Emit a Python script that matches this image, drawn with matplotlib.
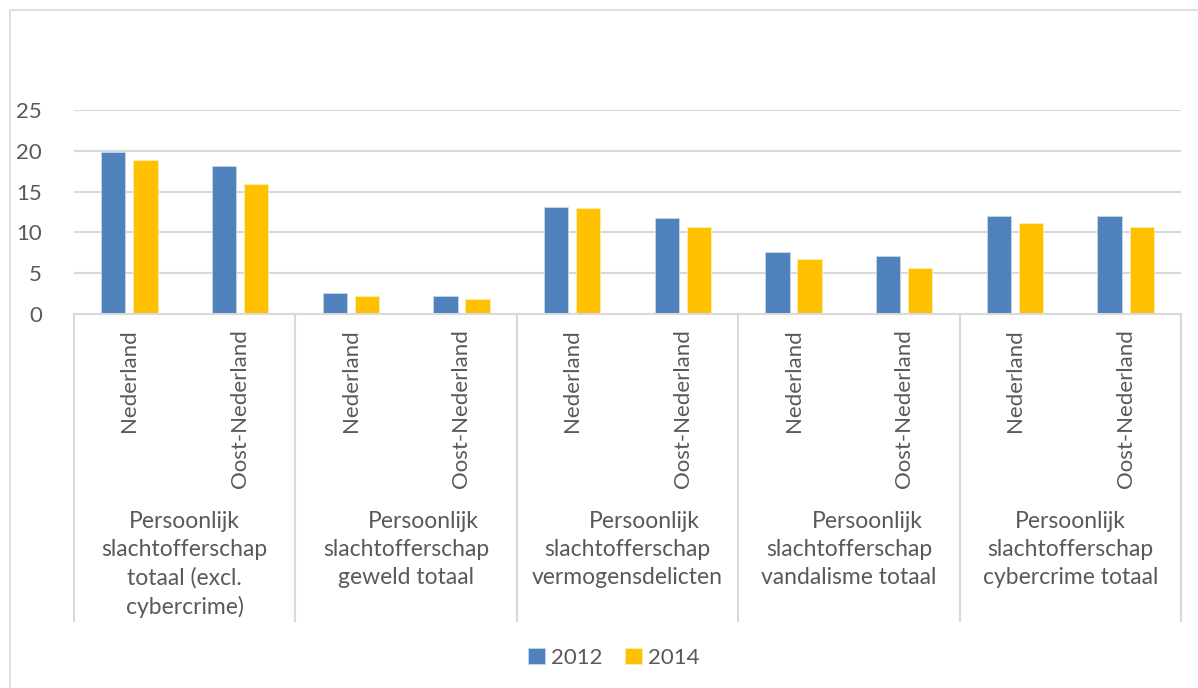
import matplotlib
matplotlib.use("Agg")
import matplotlib.pyplot as plt
import matplotlib.transforms as mtransforms
from matplotlib.patches import Rectangle
import numpy as np

plt.rcParams['font.family'] = ['Lato', 'DejaVu Sans']

regions = ["Nederland", "Oost-Nederland"] * 5
groups = [
    ["Persoonlijk", "slachtofferschap", "totaal (excl.", "cybercrime)"],
    ["Persoonlijk", "slachtofferschap", "geweld totaal"],
    ["Persoonlijk", "slachtofferschap", "vermogensdelicten"],
    ["Persoonlijk", "slachtofferschap", "vandalisme totaal"],
    ["Persoonlijk", "slachtofferschap", "cybercrime totaal"],
]
first_line_shift = [0, 17, 17, 18, 0]  # px shift of first line (Excel wrap quirk)
values_2012 = [19.8, 18.1, 2.6, 2.2, 13.1, 11.8, 7.6, 7.1, 12.0, 12.0]
values_2014 = [18.9, 15.9, 2.2, 1.8, 13.0, 10.7, 6.7, 5.6, 11.1, 10.7]
series_labels = ["2012", "2014"]
yticks = [0, 5, 10, 15, 20, 25]

W, H = 1198, 688
fig = plt.figure(figsize=(W / 100, H / 100), dpi=100)
fig.patch.set_facecolor("white")

# outer chart border
fig.patches.append(Rectangle((10 / W, -0.1), 1.2, 1 - 10 / H + 0.1, transform=fig.transFigure,
                             fill=False, edgecolor="#d9d9d9", linewidth=1.2))

left, right, top, bottom = 74, 1181, 110, 314
ax = fig.add_axes([left / W, 1 - bottom / H, (right - left) / W, (bottom - top) / H])

blue = "#4F81BD"
yellow = "#FFC000"
txt = "#595959"
x = np.arange(len(regions))
bw = 0.22
off = 0.145
ax.bar(x - off, values_2012, bw, color=blue, edgecolor="#c9d7ea", linewidth=0.6, label=series_labels[0], zorder=3)
ax.bar(x + off, values_2014, bw, color=yellow, edgecolor="#ffeab3", linewidth=0.6, label=series_labels[1], zorder=3)

ax.set_xlim(-0.5, len(regions) - 0.5)
ax.set_ylim(0, 25)
ax.set_yticks(yticks)
ax.set_yticklabels([str(t) for t in yticks], fontsize=16, color=txt)
ax.tick_params(axis="y", length=0, pad=23)
ax.set_xticks([])
ax.yaxis.grid(True, color="#d9d9d9", linewidth=1.5, zorder=0)
for s in ["top", "right", "left"]:
    ax.spines[s].set_visible(False)
ax.spines["bottom"].set_color("#d9d9d9")
ax.spines["bottom"].set_linewidth(1.5)
ax.spines["bottom"].set_zorder(4)

trans = mtransforms.blended_transform_factory(ax.transData, ax.transAxes)
ph = bottom - top  # axes height px

def ay(py):
    return (bottom - py) / ph

# separators
for b in np.arange(-0.5, len(regions) + 0.5, 2):
    ax.plot([b, b], [0, ay(621)], transform=trans, color="#d9d9d9", linewidth=1.5, clip_on=False, zorder=1)

# region labels
for i, r in enumerate(regions):
    ax.text(i, ay(329), r, rotation=90, ha="center", va="top", transform=trans,
            fontsize=16, color=txt)

# group labels
line_h = 28.5
for g, lines in enumerate(groups):
    cx = 2 * g + 0.5
    for k, ln in enumerate(lines):
        dx = first_line_shift[g] if k == 0 else 0
        t = mtransforms.offset_copy(trans, fig=fig, x=dx * 0.72, y=0, units="points")
        ax.text(cx, ay(521 + k * line_h), ln, ha="center", va="center", transform=t,
                fontsize=16.5, color=txt)

leg = fig.legend(loc="center", bbox_to_anchor=(614 / W, 1 - 658 / H), ncol=2, frameon=False,
                 fontsize=16, handlelength=0.75, handleheight=0.75, handletextpad=0.3,
                 columnspacing=1.0)
for t in leg.get_texts():
    t.set_color(txt)

fig.savefig("out.png", dpi=100)
